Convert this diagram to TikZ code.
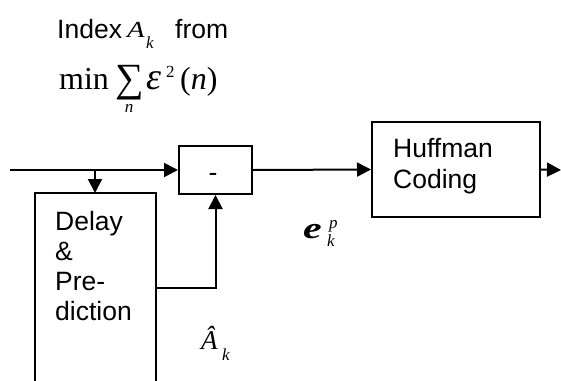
\documentclass[tikz,border=0pt]{standalone}
\usepackage{fontspec}
\setmainfont{Liberation Sans}
\newfontfamily\tms{Liberation Serif}
\usetikzlibrary{arrows.meta}
\tikzset{
  blk/.style={draw, line width=2pt, inner sep=0pt},
  conn/.style={line width=2pt},
  arr/.style={conn, -{Triangle[length=14pt,width=14pt]}},
  lbl/.style={anchor=base west, inner sep=0pt, font=\fontsize{26.5}{30}\selectfont},
  mth/.style={anchor=base west, inner sep=0pt, font=\tms\fontsize{32}{32}\selectfont},
  sub/.style={anchor=base west, inner sep=0pt, font=\tms\itshape\fontsize{17}{17}\selectfont},
}
\begin{document}
\begin{tikzpicture}[x=1pt,y=-1pt]
\useasboundingbox (0,0) rectangle (561,380);
% labels on top
\node[lbl] (idx) at (57,38) {Index};
\node[mth, font=\tms\itshape\fontsize{23}{30}\selectfont] (idxA) at (127,37) {\scalebox{1.25}[1]{A}};
\node[sub] (idxk) at (146,48) {k};
\node[lbl] (from) at (175,38) {from};
\node[mth] (min) at (59,89) {min};
\node[mth, anchor=base, font=\tms\fontsize{40}{40}\selectfont] (sum) at (130,91) {∑};
\node[sub, anchor=base] (sumn) at (129,112) {n};
\node[mth, font=\tms\itshape\fontsize{38}{38}\selectfont] (eps) at (146,89) {ε};
\node[sub, font=\tms\fontsize{17}{17}\selectfont] (sq) at (166,77) {2};
\node[mth] (argn) at (180,89) {(\textit{n})};
% boxes
\node[blk, minimum width=73pt, minimum height=48pt] (minus) at (215.5,170) {};
\node[lbl, anchor=center] (minustxt) at (213,177) {-};
\node[blk, minimum width=168pt, minimum height=95pt] (huff) at (456,169.5) {};
\node[lbl, align=left, anchor=north west, font=\fontsize{26.5}{31}\selectfont] (hufftxt) at (393,138) {Huffman\\Coding};
\coordinate (dtl) at (35,193);
\coordinate (dtr) at (156,193);
\coordinate (dbl) at (35,382);
\coordinate (dbr) at (156,382);
\draw[conn] (dbl) -- (dtl) -- (dtr) -- (dbr);
\node[lbl, align=left, anchor=north west, font=\fontsize{26.5}{30}\selectfont] (deltxt) at (55,211) {Delay\\\&\\Pre-\\diction};
\coordinate (delaytop) at (95,193);
\coordinate (delayout) at (156,288);
% connectors
\coordinate (in) at (10,170);
\coordinate (br) at (95,170);
\coordinate (out) at (561,170);
\draw[arr] (in) -- (minus.west);
\draw[arr] (br) -- (delaytop);
\draw[arr] (delayout) -| (minus.south);
\draw[arr] (minus.east) -- (huff.west);
\draw[arr] (huff.east) -- (out);
% signal labels
\node[mth, font=\tms\itshape\fontsize{27}{30}\selectfont] (ahat) at (201,349) {Â};
\node[sub] (ahatk) at (222,360) {k};
\node[mth, font=\tms\bfseries\itshape\fontsize{30}{30}\selectfont] (ep) at (303,238) {\scalebox{1.4}[1]{e}};
\node[sub] (epk) at (327,246) {k};
\node[sub] (epp) at (329,228) {p};
\end{tikzpicture}
\end{document}
